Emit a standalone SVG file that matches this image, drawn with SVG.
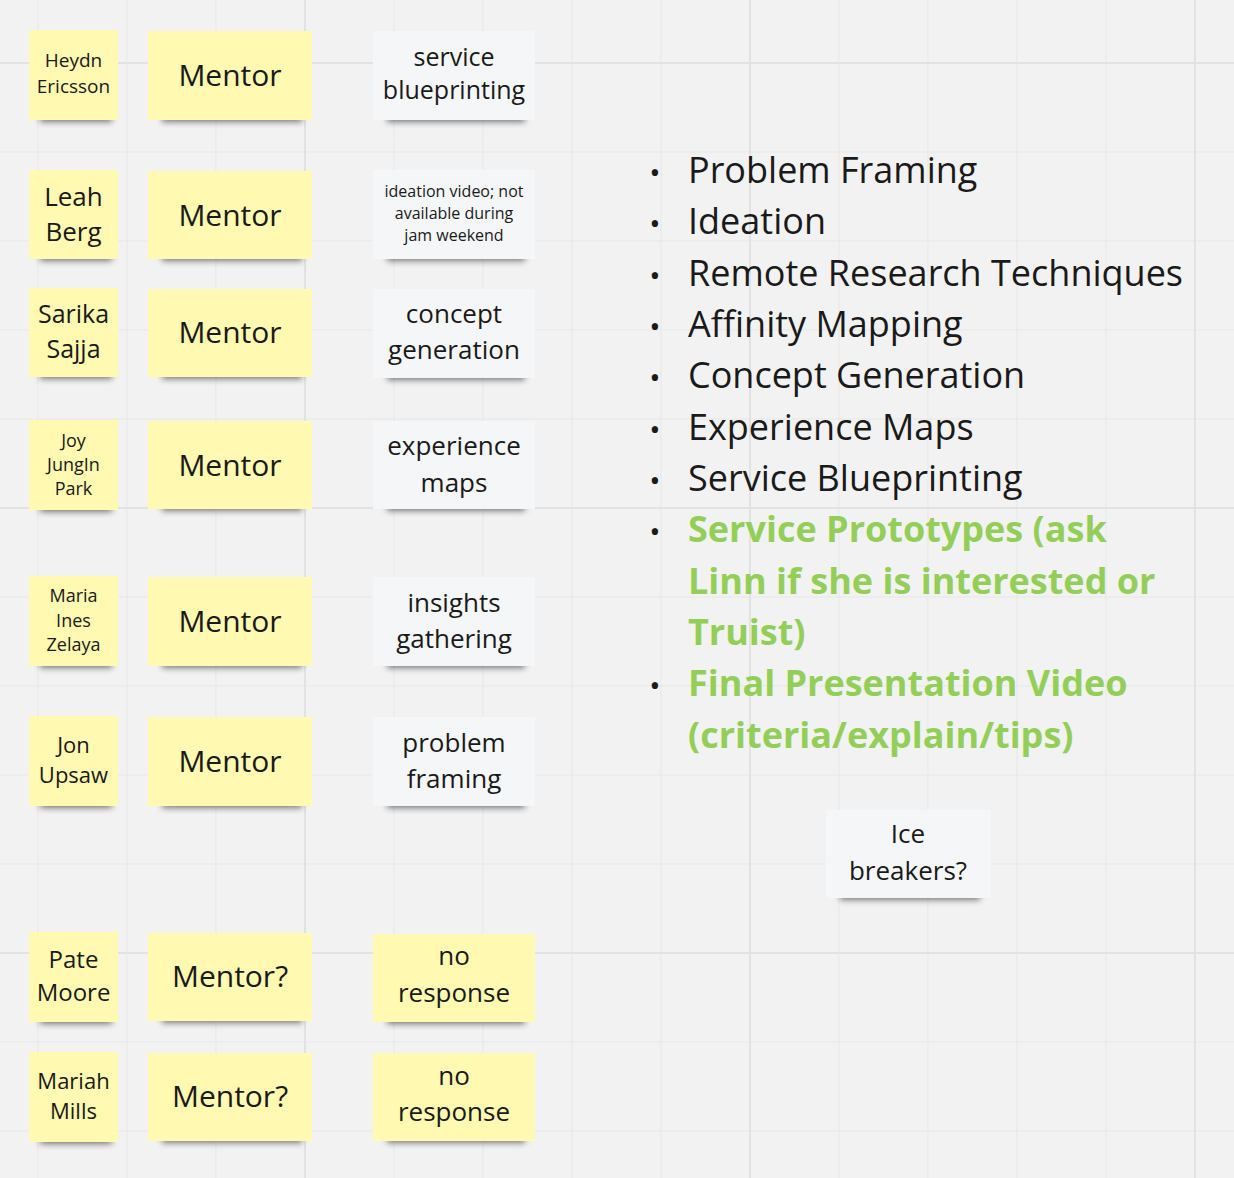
<svg xmlns="http://www.w3.org/2000/svg" width="1234" height="1178" viewBox="0 0 1234 1178">
<defs>
<style>
.bg{fill:#f2f2f2}
.minor{stroke:#e7e7e7;stroke-width:1;fill:none}
.major{stroke:#e2e2e2;stroke-width:2;fill:none}
.y{fill:#fff9b1}
.w{fill:#f5f6f8}
.sh{fill:#000;opacity:0.5;filter:url(#blur)}
text{font-family:"Open Sans","Noto Sans","Liberation Sans",sans-serif;fill:#1a1a1a;text-anchor:middle}
.li{text-anchor:start;font-size:36px}
.g{fill:#93cf58;font-weight:bold}
.b{text-anchor:middle;font-size:30px}
</style>
<filter id="blur" x="-20%" y="-100%" width="140%" height="300%"><feGaussianBlur stdDeviation="3"/></filter>
</defs>
<rect class="bg" x="0" y="0" width="1234" height="1178"/>
<g id="grid">
<path class="minor" d="M38 0V1178M127 0V1178M216 0V1178M394 0V1178M483 0V1178M572 0V1178M661 0V1178M839 0V1178M928 0V1178M1017 0V1178M1106 0V1178M0 152H1234M0 241H1234M0 330H1234M0 419H1234M0 597H1234M0 686H1234M0 775H1234M0 864H1234M0 1042H1234M0 1131H1234"/>
<path class="major" d="M305 0V1178M750 0V1178M1195 0V1178M0 63H1234M0 508H1234M0 953H1234"/>
</g>
<g id="connectors"></g>

<g id="n-heydn"><rect class="sh" x="40" y="110" width="72" height="12"/><rect class="y" x="29" y="30" width="89" height="90"/><text font-size="19"><tspan x="73.5" y="67">Heydn</tspan><tspan x="73.5" y="93">Ericsson</tspan></text></g>
<g id="n-m1"><rect class="sh" x="162" y="110" width="140" height="12"/><rect class="y" x="148" y="31" width="164" height="89"/><text font-size="30" x="230" y="86">Mentor</text></g>
<g id="n-s1"><rect class="sh" x="387" y="110" width="138" height="12"/><rect class="w" x="373" y="31" width="162" height="89"/><text font-size="25"><tspan x="454" y="66">service</tspan><tspan x="454" y="99">blueprinting</tspan></text></g>

<g id="n-leah"><rect class="sh" x="40" y="249" width="72" height="12"/><rect class="y" x="29" y="170" width="89" height="89"/><text font-size="26"><tspan x="73.5" y="206">Leah</tspan><tspan x="73.5" y="241">Berg</tspan></text></g>
<g id="n-m2"><rect class="sh" x="162" y="249" width="140" height="12"/><rect class="y" x="148" y="171" width="164" height="88"/><text font-size="30" x="230" y="226">Mentor</text></g>
<g id="n-s2"><rect class="sh" x="387" y="249" width="138" height="12"/><rect class="w" x="373" y="170" width="162" height="89"/><text font-size="16"><tspan x="454" y="197">ideation video; not</tspan><tspan x="454" y="219">available during</tspan><tspan x="454" y="241">jam weekend</tspan></text></g>

<g id="n-sarika"><rect class="sh" x="40" y="367" width="72" height="12"/><rect class="y" x="29" y="288" width="89" height="89"/><text font-size="25"><tspan x="73.5" y="323">Sarika</tspan><tspan x="73.5" y="358">Sajja</tspan></text></g>
<g id="n-m3"><rect class="sh" x="162" y="367" width="140" height="12"/><rect class="y" x="148" y="289" width="164" height="88"/><text font-size="30" x="230" y="343">Mentor</text></g>
<g id="n-s3"><rect class="sh" x="387" y="368" width="138" height="12"/><rect class="w" x="373" y="289" width="162" height="89"/><text font-size="26"><tspan x="454" y="323">concept</tspan><tspan x="454" y="359">generation</tspan></text></g>

<g id="n-joy"><rect class="sh" x="40" y="500" width="72" height="12"/><rect class="y" x="29" y="420" width="89" height="90"/><text font-size="18"><tspan x="73.5" y="447">Joy</tspan><tspan x="73.5" y="471">JungIn</tspan><tspan x="73.5" y="495">Park</tspan></text></g>
<g id="n-m4"><rect class="sh" x="162" y="499" width="140" height="12"/><rect class="y" x="148" y="421" width="164" height="88"/><text font-size="30" x="230" y="476">Mentor</text></g>
<g id="n-s4"><rect class="sh" x="387" y="499" width="138" height="12"/><rect class="w" x="373" y="421" width="162" height="88"/><text font-size="26"><tspan x="454" y="455">experience</tspan><tspan x="454" y="492">maps</tspan></text></g>

<g id="n-maria"><rect class="sh" x="40" y="656" width="72" height="12"/><rect class="y" x="29" y="576" width="89" height="90"/><text font-size="18"><tspan x="73.5" y="602">Maria</tspan><tspan x="73.5" y="627">Ines</tspan><tspan x="73.5" y="651">Zelaya</tspan></text></g>
<g id="n-m5"><rect class="sh" x="162" y="656" width="140" height="12"/><rect class="y" x="148" y="577" width="164" height="89"/><text font-size="30" x="230" y="632">Mentor</text></g>
<g id="n-s5"><rect class="sh" x="387" y="656" width="138" height="12"/><rect class="w" x="373" y="577" width="162" height="89"/><text font-size="26"><tspan x="454" y="612">insights</tspan><tspan x="454" y="648">gathering</tspan></text></g>

<g id="n-jon"><rect class="sh" x="40" y="796" width="72" height="12"/><rect class="y" x="29" y="716" width="89" height="90"/><text font-size="22"><tspan x="73.5" y="753">Jon</tspan><tspan x="73.5" y="783">Upsaw</tspan></text></g>
<g id="n-m6"><rect class="sh" x="162" y="796" width="140" height="12"/><rect class="y" x="148" y="717" width="164" height="89"/><text font-size="30" x="230" y="772">Mentor</text></g>
<g id="n-s6"><rect class="sh" x="387" y="796" width="138" height="12"/><rect class="w" x="373" y="717" width="162" height="89"/><text font-size="26"><tspan x="454" y="752">problem</tspan><tspan x="454" y="788">framing</tspan></text></g>

<g id="n-pate"><rect class="sh" x="40" y="1012" width="72" height="12"/><rect class="y" x="29" y="932" width="89" height="90"/><text font-size="24"><tspan x="73.5" y="968">Pate</tspan><tspan x="73.5" y="1001">Moore</tspan></text></g>
<g id="n-m7"><rect class="sh" x="162" y="1011" width="140" height="12"/><rect class="y" x="148" y="933" width="164" height="88"/><text font-size="30" x="230" y="987">Mentor?</text></g>
<g id="n-s7"><rect class="sh" x="387" y="1012" width="138" height="12"/><rect class="y" x="373" y="934" width="162" height="88"/><text font-size="26"><tspan x="454" y="965">no</tspan><tspan x="454" y="1002">response</tspan></text></g>

<g id="n-mariah"><rect class="sh" x="40" y="1132" width="72" height="12"/><rect class="y" x="29" y="1052" width="89" height="90"/><text font-size="22"><tspan x="73.5" y="1089">Mariah</tspan><tspan x="73.5" y="1119">Mills</tspan></text></g>
<g id="n-m8"><rect class="sh" x="162" y="1131" width="140" height="12"/><rect class="y" x="148" y="1053" width="164" height="88"/><text font-size="30" x="230" y="1107">Mentor?</text></g>
<g id="n-s8"><rect class="sh" x="387" y="1131" width="138" height="12"/><rect class="y" x="373" y="1053" width="162" height="88"/><text font-size="26"><tspan x="454" y="1085">no</tspan><tspan x="454" y="1121">response</tspan></text></g>

<g id="n-ice"><rect class="sh" x="840" y="888" width="140" height="12"/><rect class="w" x="826" y="810" width="165" height="88"/><text font-size="26"><tspan x="908" y="843">Ice</tspan><tspan x="908" y="880">breakers?</tspan></text></g>

<g id="list">
<text class="b" x="655" y="183">•</text>
<text class="b" x="655" y="234">•</text>
<text class="b" x="655" y="286">•</text>
<text class="b" x="655" y="337">•</text>
<text class="b" x="655" y="388">•</text>
<text class="b" x="655" y="440">•</text>
<text class="b" x="655" y="491">•</text>
<text class="b" x="655" y="542">•</text>
<text class="b" x="655" y="696">•</text>
<text class="li" x="688" y="183">Problem Framing</text>
<text class="li" x="688" y="234">Ideation</text>
<text class="li" x="688" y="286">Remote Research Techniques</text>
<text class="li" x="688" y="337">Affinity Mapping</text>
<text class="li" x="688" y="388">Concept Generation</text>
<text class="li" x="688" y="440">Experience Maps</text>
<text class="li" x="688" y="491">Service Blueprinting</text>
<text class="li g" x="688" y="542">Service Prototypes (ask</text>
<text class="li g" x="688" y="594">Linn if she is interested or</text>
<text class="li g" x="688" y="645">Truist)</text>
<text class="li g" x="688" y="696">Final Presentation Video</text>
<text class="li g" x="688" y="748">(criteria/explain/tips)</text>
</g>
</svg>
